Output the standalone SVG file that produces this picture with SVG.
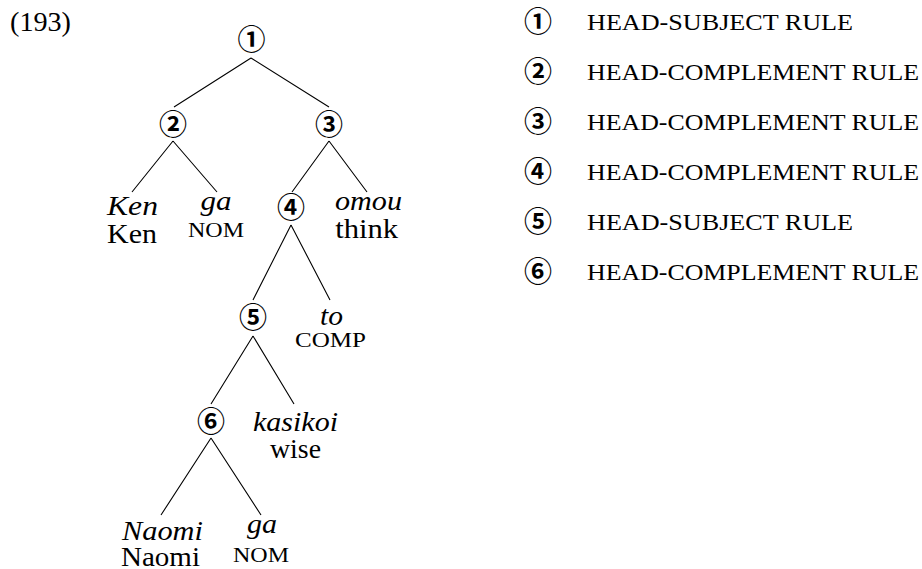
<svg xmlns="http://www.w3.org/2000/svg" width="922" height="569" viewBox="0 0 922 569">
<style>
.t{font-family:"Liberation Serif",serif;font-size:27px;fill:#000;text-anchor:middle}
.it{font-style:italic}
.sc{font-size:20px}
.cap{font-size:20px}
.rule{font-family:"Liberation Serif",serif;font-size:23px;fill:#000}
.c{font-family:"Noto Sans CJK JP","DejaVu Sans",sans-serif;font-weight:bold;font-size:28px;fill:#000;text-anchor:middle}
.edge{stroke:#000;stroke-width:1.1;fill:none}
</style>
<rect width="922" height="569" fill="#fff"/>
<text class="t" x="10" y="31" style="text-anchor:start" textLength="61" lengthAdjust="spacingAndGlyphs">(193)</text>
<g id="connectors">
<path class="edge" d="M251,58L174,107M251,58L329,107"/>
<path class="edge" d="M173,141L132,192M173,141L217,192"/>
<path class="edge" d="M329,141L292,192M329,141L367,192"/>
<path class="edge" d="M291,225L253,300M291,225L330,300"/>
<path class="edge" d="M253,336L211,404M253,336L294,404"/>
<path class="edge" d="M211,438L161,515M211,438L261,515"/>
</g>
<g id="n1"><text class="c" x="251.5" y="50">①</text></g>
<g id="n2"><text class="c" x="173" y="135">②</text></g>
<g id="n3"><text class="c" x="329" y="135">③</text></g>
<g id="n4"><text class="c" x="291" y="218">④</text></g>
<g id="n5"><text class="c" x="253" y="328">⑤</text></g>
<g id="n6"><text class="c" x="211" y="432">⑥</text></g>
<g id="leaf-ken"><text class="t it" x="132.5" y="215" textLength="51" lengthAdjust="spacingAndGlyphs">Ken</text><text class="t" x="132" y="243" textLength="50" lengthAdjust="spacingAndGlyphs">Ken</text></g>
<g id="leaf-ga1"><text class="t it" x="216" y="210" textLength="31" lengthAdjust="spacingAndGlyphs">ga</text><text class="t sc" x="216" y="237" textLength="56" lengthAdjust="spacingAndGlyphs">NOM</text></g>
<g id="leaf-omou"><text class="t it" x="368.5" y="210" textLength="67" lengthAdjust="spacingAndGlyphs">omou</text><text class="t" x="366.7" y="238" textLength="63" lengthAdjust="spacingAndGlyphs">think</text></g>
<g id="leaf-to"><text class="t it" x="331.5" y="325" textLength="23" lengthAdjust="spacingAndGlyphs">to</text><text class="t cap" x="330.5" y="347" textLength="71" lengthAdjust="spacingAndGlyphs">COMP</text></g>
<g id="leaf-kasikoi"><text class="t it" x="295.5" y="431" textLength="85" lengthAdjust="spacingAndGlyphs">kasikoi</text><text class="t" x="295.5" y="458" textLength="51" lengthAdjust="spacingAndGlyphs">wise</text></g>
<g id="leaf-naomi"><text class="t it" x="162.5" y="540" textLength="81" lengthAdjust="spacingAndGlyphs">Naomi</text><text class="t" x="160.5" y="566" textLength="79" lengthAdjust="spacingAndGlyphs">Naomi</text></g>
<g id="leaf-ga2"><text class="t it" x="262" y="533" textLength="30" lengthAdjust="spacingAndGlyphs">ga</text><text class="t sc" x="261" y="562" textLength="56" lengthAdjust="spacingAndGlyphs">NOM</text></g>
<g id="legend">
<g id="r1"><text class="c" x="538" y="32">①</text><text class="rule" x="587" y="29.5" textLength="266" lengthAdjust="spacingAndGlyphs">HEAD-SUBJECT RULE</text></g>
<g id="r2"><text class="c" x="538" y="82">②</text><text class="rule" x="587" y="79.5" textLength="332" lengthAdjust="spacingAndGlyphs">HEAD-COMPLEMENT RULE</text></g>
<g id="r3"><text class="c" x="538" y="132">③</text><text class="rule" x="587" y="129.5" textLength="332" lengthAdjust="spacingAndGlyphs">HEAD-COMPLEMENT RULE</text></g>
<g id="r4"><text class="c" x="538" y="182">④</text><text class="rule" x="587" y="179.5" textLength="332" lengthAdjust="spacingAndGlyphs">HEAD-COMPLEMENT RULE</text></g>
<g id="r5"><text class="c" x="538" y="232">⑤</text><text class="rule" x="587" y="229.5" textLength="266" lengthAdjust="spacingAndGlyphs">HEAD-SUBJECT RULE</text></g>
<g id="r6"><text class="c" x="538" y="282">⑥</text><text class="rule" x="587" y="279.5" textLength="332" lengthAdjust="spacingAndGlyphs">HEAD-COMPLEMENT RULE</text></g>
</g>
</svg>
